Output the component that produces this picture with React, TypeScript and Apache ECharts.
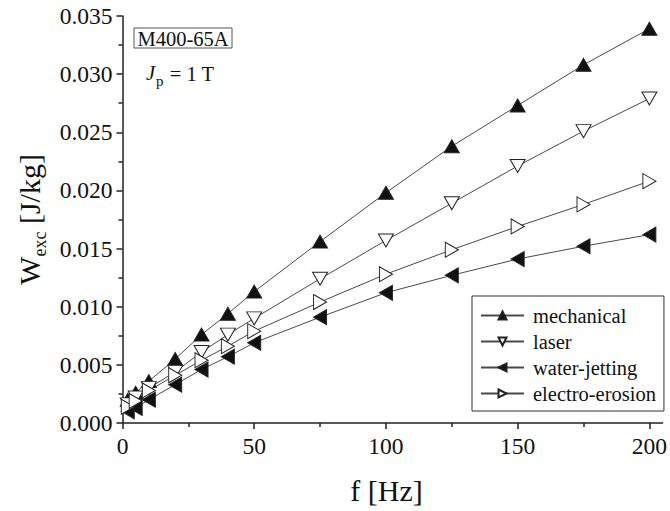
import React, { useEffect, useRef } from 'react';
import * as echarts from 'echarts';

// f [Hz]
const frequencies = [2, 5, 10, 20, 30, 40, 50, 75, 100, 125, 150, 175, 200];
// W_exc [J/kg]
const mechanical = [0.0020, 0.0026, 0.0036, 0.0055, 0.0076, 0.0094, 0.0113, 0.0156, 0.0198, 0.0238, 0.0273, 0.0308, 0.0339];
const laser = [0.0016, 0.0022, 0.0030, 0.0044, 0.0061, 0.0076, 0.0090, 0.0124, 0.0157, 0.0189, 0.0221, 0.0251, 0.0279];
const waterJetting = [0.0010, 0.0013, 0.0020, 0.0033, 0.0046, 0.0057, 0.0069, 0.0091, 0.0112, 0.0127, 0.0141, 0.0152, 0.0162];
const electroErosion = [0.0014, 0.0019, 0.0028, 0.0041, 0.0054, 0.0066, 0.0079, 0.0104, 0.0128, 0.0149, 0.0169, 0.0188, 0.0208];

const seriesNames = ['mechanical', 'laser', 'water-jetting', 'electro-erosion'];
const xMajorTicks = [0, 50, 100, 150, 200];
const xMinorTicks = [25, 75, 125, 175];

const FONT = 'Liberation Serif';

const SYM_UP = 'path://M5,0 L10,10 L0,10 Z';
const SYM_DOWN = 'path://M0,0 L10,0 L5,10 Z';
const SYM_LEFT = 'path://M0,5 L10,0 L10,10 Z';
const SYM_RIGHT = 'path://M0,0 L10,5 L0,10 Z';

export default function App() {
  const ref = useRef<HTMLDivElement>(null);

  useEffect(() => {
    const chart = echarts.init(ref.current!, null, { renderer: 'svg' });
    const pair = (ys: number[]) => frequencies.map((f, i) => [f, ys[i]]);
    const mk = (name: string, ys: number[], symbol: string, size: number[], filled: boolean) => ({
      name,
      type: 'line',
      data: pair(ys),
      symbol,
      symbolSize: size,
      showAllSymbol: true,
      lineStyle: { color: '#4a4a4a', width: 1 },
      itemStyle: {
        color: filled ? '#111' : '#fff',
        borderColor: '#222',
        borderWidth: 1,
      },
      emphasis: { disabled: true },
    });

    const axisColor = '#222';

    chart.setOption({
      animation: false,
      backgroundColor: '#fff',
      textStyle: { fontFamily: FONT },
      grid: { left: 122.5, right: 4, top: 16, bottom: 88, containLabel: false },
      xAxis: [
        {
          type: 'value',
          min: 0,
          max: 205,
          interval: 50,
          position: 'bottom',
          axisLine: { show: true, onZero: false, lineStyle: { color: axisColor, width: 1.5 } },
          axisTick: { show: true, inside: false, length: 6, customValues: xMajorTicks, lineStyle: { color: axisColor, width: 1.5 } },
          axisLabel: {
            customValues: xMajorTicks,
            fontFamily: FONT,
            fontSize: 23.5,
            color: '#111',
            margin: 11,
          },
          splitLine: { show: false },
          name: 'f [Hz]',
          nameLocation: 'middle',
          nameGap: 52,
          nameTextStyle: { fontFamily: FONT, fontSize: 30, color: '#111', padding: [0, 12, 0, 0] },
        },
        {
          type: 'value',
          min: 0,
          max: 205,
          position: 'bottom',
          axisLine: { show: false },
          axisTick: { show: true, inside: false, length: 4, customValues: xMinorTicks, lineStyle: { color: axisColor, width: 1.5 } },
          axisLabel: { show: false },
          splitLine: { show: false },
        },
      ],
      yAxis: {
        type: 'value',
        min: 0,
        max: 0.035,
        interval: 0.005,
        axisLine: { show: true, onZero: false, lineStyle: { color: axisColor, width: 1.5 } },
        axisTick: { show: true, inside: false, length: 6, lineStyle: { color: axisColor, width: 1.5 } },
        minorTick: { show: true, splitNumber: 2, length: 4, lineStyle: { color: axisColor, width: 1.5 } },
        axisLabel: {
          fontFamily: FONT,
          fontSize: 23.5,
          color: '#111',
          margin: 10,
          formatter: (v: number) => v.toFixed(3),
        },
        splitLine: { show: false },
        minorSplitLine: { show: false },
        name: '{w|W}{s|exc}{w| [J/kg]}',
        nameLocation: 'middle',
        nameGap: 62,
        nameTextStyle: {
          fontFamily: FONT,
          fontSize: 30,
          color: '#111',
          rich: {
            w: { fontFamily: FONT, fontSize: 30, color: '#111', verticalAlign: 'top', lineHeight: 30 },
            s: { fontFamily: FONT, fontSize: 18, color: '#111', verticalAlign: 'top', lineHeight: 18, padding: [16, 0, 0, 0] },
          },
        },
      },
      legend: {
        show: true,
        data: seriesNames,
        orient: 'vertical',
        left: 472,
        top: 296,
        itemWidth: 43,
        itemHeight: 10,
        itemGap: 5,
        padding: [9, 8, 7, 8],
        borderColor: '#333',
        borderWidth: 1,
        backgroundColor: '#fff',
        selectedMode: false,
        textStyle: { fontFamily: FONT, fontSize: 20.5, color: '#111', padding: [0, 0, 0, 4] },
      },
      graphic: [
        {
          type: 'rect',
          shape: { x: 134, y: 28, width: 98, height: 20 },
          style: { fill: '#fff', stroke: '#555', lineWidth: 1 },
        },
        {
          type: 'text',
          x: 183,
          y: 38.5,
          style: {
            text: 'M400-65A',
            fontFamily: FONT,
            fontSize: 20.5,
            fill: '#111',
            align: 'center',
            verticalAlign: 'middle',
          },
        },
        {
          type: 'text',
          x: 146,
          y: 63,
          style: {
            text: '{j|J}{p|p}{t| = 1 T}',
            fontFamily: FONT,
            fontSize: 20.5,
            fill: '#111',
            align: 'left',
            verticalAlign: 'top',
            rich: {
              j: { fontFamily: FONT, fontSize: 20.5, fontStyle: 'italic', fill: '#111', verticalAlign: 'top', lineHeight: 20.5 },
              p: { fontFamily: FONT, fontSize: 15, fill: '#111', verticalAlign: 'top', lineHeight: 15, padding: [10, 1, 0, 1] },
              t: { fontFamily: FONT, fontSize: 20.5, fill: '#111', verticalAlign: 'top', lineHeight: 20.5 },
            },
          },
        },
      ],
      series: [
        mk(seriesNames[0], mechanical, SYM_UP, [15, 13], true),
        mk(seriesNames[1], laser, SYM_DOWN, [15, 13], false),
        mk(seriesNames[2], waterJetting, SYM_LEFT, [13, 15], true),
        mk(seriesNames[3], electroErosion, SYM_RIGHT, [13, 15], false),
      ],
    });

    return () => chart.dispose();
  }, []);

  return (
    <div
      ref={ref}
      style={{ position: 'fixed', left: 0, top: 0, width: 670, height: 511, background: '#fff' }}
    />
  );
}
